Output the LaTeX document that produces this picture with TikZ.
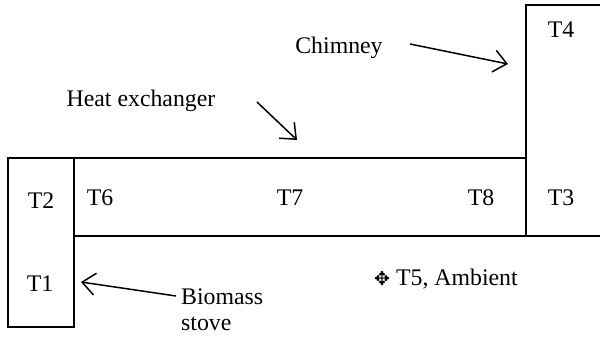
\documentclass[tikz,border=0pt]{standalone}
\usepackage{fontspec}
\setmainfont{Liberation Serif}
\newfontfamily\symfont{DejaVu Sans}
\usetikzlibrary{arrows.meta}
\begin{document}
\begin{tikzpicture}[x=1pt,y=-1pt,
  wall/.style={line width=1.5pt},
  lbl/.style={inner sep=0pt,font=\fontsize{23.8}{26}\selectfont},
  pointer/.style={line width=1.5pt,-{Straight Barb[length=13pt,width=22pt,line width=1.5pt]}}]
\useasboundingbox (0,0) rectangle (600,356);
% stove box
\draw[wall] (8,158) rectangle (74,327);
% duct
\draw[wall] (74,158) -- (526,158);
\draw[wall] (74,236) -- (602,236);
% chimney
\draw[wall] (526,236) -- (526,5) -- (602,5);
% labels
\node[lbl] (t2) at (41,201) {T2};
\node[lbl] (t1) at (40,284) {T1};
\node[lbl] (t6) at (100,198) {T6};
\node[lbl] (t7) at (290,198) {T7};
\node[lbl] (t8) at (481,198) {T8};
\node[lbl] (t3) at (561,198) {T3};
\node[lbl] (t4) at (561,30) {T4};
\node[lbl] (chim) at (339,48) {Chimney};
\node[lbl] (hx) at (141,101) {Heat exchanger};
\node[lbl,align=left,anchor=west] (bio) at (181,310) {Biomass\\stove};
\node[lbl,anchor=west] (t5) at (374,279) {{\symfont\fontsize{19}{20}\selectfont ✥} T5, Ambient};
% arrows
\coordinate (chimA) at (410,44);
\coordinate (chimB) at (508,64);
\coordinate (hxA) at (257,102);
\coordinate (hxB) at (297,140);
\coordinate (bioA) at (176,296);
\coordinate (bioB) at (81,282);
\draw[pointer] (chimA) -- (chimB);
\draw[pointer] (hxA) -- (hxB);
\draw[pointer] (bioA) -- (bioB);
\end{tikzpicture}
\end{document}
